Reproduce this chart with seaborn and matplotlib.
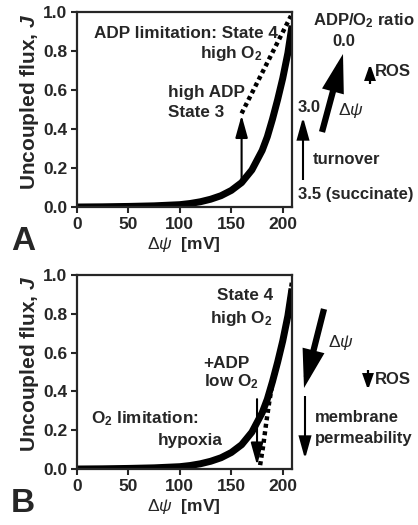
import matplotlib
matplotlib.use("Agg")
import matplotlib.pyplot as plt
from matplotlib.patches import FancyArrowPatch
import seaborn as sns
import pandas as pd

# Membrane potential (mV) and uncoupled flux of the thick solid curve
psi_solid = [0, 25, 50, 75, 100, 110, 120, 130, 140, 150, 160, 170, 180, 185, 190, 195, 200, 205, 209]
j_solid = [0.0, 0.001, 0.003, 0.006, 0.012, 0.018, 0.027, 0.040, 0.058, 0.085, 0.125, 0.19, 0.29, 0.36, 0.45, 0.55, 0.66, 0.79, 0.93]

# Panel A: State 3 (high ADP) dotted line
psi_state3 = [160, 208]
j_state3 = [0.48, 0.98]

# Panel B: O2-limited (hypoxia) dotted curve
psi_hypoxia = [178, 181, 184, 187, 190, 195, 200, 205, 209]
j_hypoxia = [0.02, 0.12, 0.24, 0.35, 0.44, 0.54, 0.65, 0.79, 0.97]

# Vertical arrows inside the panels: (psi, J start, J end)
arrow_a = (160, 0.13, 0.47)
arrow_b = (175, 0.36, 0.02)

x_ticks = [0, 50, 100, 150, 200]
y_ticks = [0.0, 0.2, 0.4, 0.6, 0.8, 1.0]

sns.set_style("ticks")
plt.rcParams["font.family"] = ["Liberation Sans", "DejaVu Sans"]
plt.rcParams["font.weight"] = "bold"
plt.rcParams["mathtext.fontset"] = "custom"
plt.rcParams["mathtext.rm"] = "Liberation Sans:weight=normal"
plt.rcParams["mathtext.it"] = "Liberation Sans:italic:weight=normal"
plt.rcParams["mathtext.bf"] = "Liberation Sans:weight=bold"
plt.rcParams["mathtext.sf"] = "Liberation Sans:weight=normal"
plt.rcParams["mathtext.bfit"] = "Liberation Sans:italic:weight=bold"

W, H = 418, 525
fig = plt.figure(figsize=(W / 100, H / 100), dpi=100)

O2 = r"O$_\mathbf{2}$"
DPSI = r"$\Delta\psi$"


def fp(x, y):
    """Pixel position (from top-left) to figure fraction."""
    return x / W, 1 - y / H


def style_axes(ax):
    ax.set_xlim(0, 209)
    ax.set_ylim(0, 1.0)
    ax.set_xticks(x_ticks)
    ax.set_yticks(y_ticks)
    ax.set_yticklabels([f"{v:.1f}" for v in y_ticks])
    for s in ax.spines.values():
        s.set_linewidth(1.6)
        s.set_visible(True)
    ax.tick_params(direction="out", length=4, width=1.5, labelsize=12.5, pad=3)
    for lab in ax.get_xticklabels() + ax.get_yticklabels():
        lab.set_fontweight("bold")
    ax.set_xlabel("")
    ax.set_ylabel("")


def fig_arrow(p0, p1, lw, hl, hw, ms):
    a = FancyArrowPatch(fp(*p0), fp(*p1), transform=fig.transFigure,
                        arrowstyle=f"-|>,head_length={hl},head_width={hw}",
                        mutation_scale=ms, lw=lw, color="black",
                        shrinkA=0, shrinkB=0, joinstyle="miter", capstyle="butt")
    fig.add_artist(a)


def ax_arrow(ax, psi, j0, j1):
    ax.annotate("", xy=(psi, j1), xytext=(psi, j0),
                arrowprops=dict(arrowstyle="-|>,head_length=0.9,head_width=0.25",
                                mutation_scale=15, lw=1.5, color="black",
                                shrinkA=0, shrinkB=0))


def ftext(x, y, s, ha="left", size=12, weight="bold", **kw):
    fx, fy = fp(x, y)
    fig.text(fx, fy, s, ha=ha, va="center", fontsize=size, fontweight=weight, **kw)


solid = pd.DataFrame({"psi": psi_solid, "J": j_solid})
state3 = pd.DataFrame({"psi": psi_state3, "J": j_state3})
hypoxia = pd.DataFrame({"psi": psi_hypoxia, "J": j_hypoxia})

ylab = r"Uncoupled flux, $\mathbfit{J}$"
xlab = DPSI + "  [mV]"

# ---------------- Panel A ----------------
axA = fig.add_axes([77 / W, 1 - 207 / H, 215 / W, 195 / H])
sns.lineplot(data=solid, x="psi", y="J", ax=axA, color="black", lw=5,
             solid_capstyle="butt")
sns.lineplot(data=state3, x="psi", y="J", ax=axA, color="black", lw=3.2,
             dashes=False)
axA.lines[-1].set_dashes((0.9, 0.8))
axA.lines[-1].set_dash_capstyle("butt")
ax_arrow(axA, *arrow_a)
style_axes(axA)

axA.text(106, 0.89, "ADP limitation: State 4", ha="center", va="center", fontsize=12.3)
axA.text(180.5, 0.785, "high " + O2, ha="right", va="center", fontsize=12.3)
axA.text(88, 0.585, "high ADP", ha="left", va="center", fontsize=12.3)
axA.text(88, 0.487, "State 3", ha="left", va="center", fontsize=12.3)

ftext(313, 21, "ADP/" + O2 + " ratio")
ftext(344, 42, "0.0", ha="center")
ftext(375, 72, "ROS")
ftext(298, 108, "3.0")
ftext(338, 110, DPSI, size=12.5)
ftext(313, 160, "turnover")
ftext(298, 195, "3.5 (succinate)")

fig_arrow((322, 132), (343, 54), lw=4.5, hl=1.1, hw=0.32, ms=16)
fig_arrow((370, 84), (370, 64), lw=1.6, hl=1.0, hw=0.35, ms=9)
fig_arrow((303, 180), (303, 117), lw=1.5, hl=0.9, hw=0.25, ms=15)

ftext(11, 242, "A", size=24)
ftext(184, 245, xlab, ha="center", size=12.5)
ftext(30, 102, ylab, ha="center", size=15, rotation=90, rotation_mode="anchor")

# ---------------- Panel B ----------------
axB = fig.add_axes([77 / W, 1 - 469 / H, 215 / W, 194 / H])
sns.lineplot(data=solid, x="psi", y="J", ax=axB, color="black", lw=5,
             solid_capstyle="butt")
sns.lineplot(data=hypoxia, x="psi", y="J", ax=axB, color="black", lw=3.2,
             dashes=False)
axB.lines[-1].set_dashes((0.9, 0.8))
axB.lines[-1].set_dash_capstyle("butt")
ax_arrow(axB, *arrow_b)
style_axes(axB)

axB.text(190.3, 0.892, "State 4", ha="right", va="center", fontsize=12.3)
axB.text(190.3, 0.775, "high " + O2, ha="right", va="center", fontsize=12.3)
axB.text(123, 0.546, "+ADP", ha="left", va="center", fontsize=12.3)
axB.text(123, 0.45, "low " + O2, ha="left", va="center", fontsize=12.3)
axB.text(13.5, 0.26, O2 + " limitation:", ha="left", va="center", fontsize=12.3)
axB.text(141.7, 0.149, "hypoxia", ha="right", va="center", fontsize=12.3)

ftext(328, 343, DPSI, size=12.5)
ftext(375, 380, "ROS")
ftext(315, 417, "membrane")
ftext(315, 438, "permeability")

fig_arrow((324, 309), (304, 388), lw=4.5, hl=1.1, hw=0.32, ms=16)
fig_arrow((368, 370), (368, 390), lw=1.6, hl=1.0, hw=0.35, ms=9)
fig_arrow((305, 396), (305, 459), lw=1.5, hl=0.9, hw=0.25, ms=15)

ftext(11, 504, "B", size=24)
ftext(184, 507, xlab, ha="center", size=12.5)
ftext(30, 364, ylab, ha="center", size=15, rotation=90, rotation_mode="anchor")

fig.savefig("out.png", dpi=100)
